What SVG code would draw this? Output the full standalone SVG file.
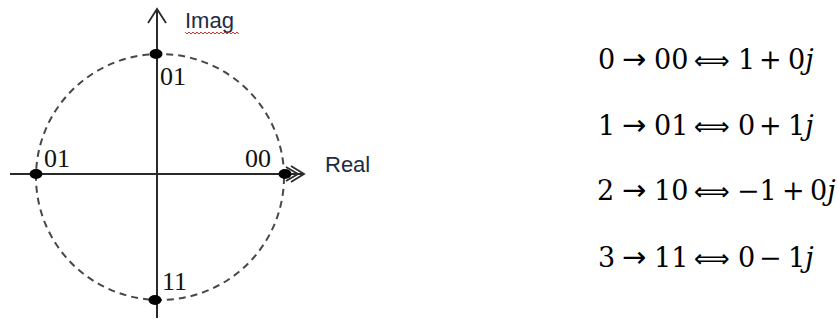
<svg xmlns="http://www.w3.org/2000/svg" width="838" height="320" viewBox="0 0 838 320">
  <style>
    .axis { stroke: #2a2a2a; stroke-width: 2; fill: none; }
    .head { stroke: #2a2a2a; stroke-width: 1.8; fill: none; stroke-linejoin: miter; }
    .circle { stroke: #474747; stroke-width: 2; fill: none; stroke-dasharray: 7 5; }
    .dot { fill: #000; }
    .axlabel { font-family: "Liberation Sans", Arial, sans-serif; font-size: 22px; fill: #1c2c44; }
    .pt { font-family: "Liberation Serif", "Times New Roman", serif; font-size: 26px; fill: #111; }
    .eq { font-family: "DejaVu Serif", "Liberation Serif", serif; font-size: 27px; fill: #000; }
    .arr { font-family: "DejaVu Sans", sans-serif; font-size: 29px; }
    .darr { font-family: "DejaVu Sans", sans-serif; font-size: 25px; }
    .squiggle { stroke: #e03030; stroke-width: 1; fill: none; }
  </style>

  <rect width="838" height="320" fill="#fff"/>

  <!-- unit circle -->
  <g id="unit-circle">
    <ellipse class="circle" cx="160" cy="177" rx="124" ry="123"/>
  </g>

  <!-- axes with open arrowheads -->
  <g id="axes">
    <line class="axis" x1="157" y1="9" x2="157" y2="318"/>
    <polyline class="head" points="148,23 157,9 166,23"/>
    <line class="axis" x1="10" y1="174" x2="303" y2="174"/>
    <polyline class="head" points="291,166 304,174 291,182"/>
    <polyline class="head" points="286,167 298,174 286,181"/>
  </g>

  <!-- constellation points -->
  <g id="point-top">
    <ellipse class="dot" cx="156" cy="54" rx="6.5" ry="5"/>
    <text class="pt" x="160" y="85">01</text>
  </g>
  <g id="point-left">
    <ellipse class="dot" cx="36" cy="174" rx="6.5" ry="5"/>
    <text class="pt" x="44" y="167">01</text>
  </g>
  <g id="point-right">
    <ellipse class="dot" cx="285" cy="174" rx="6.5" ry="5"/>
    <text class="pt" x="245" y="167">00</text>
  </g>
  <g id="point-bottom">
    <ellipse class="dot" cx="155" cy="300" rx="6.5" ry="5"/>
    <text class="pt" x="162" y="290">11</text>
  </g>

  <!-- axis labels -->
  <g id="label-imag">
    <text class="axlabel" x="185" y="28">Imag</text>
    <polyline class="squiggle" points="185,32 187,34 189,32 191,34 193,32 195,34 197,32 199,34 201,32 203,34 205,32 207,34 209,32 211,34 213,32 215,34 217,32 219,34 221,32 223,34 225,32 227,34 229,32 231,34 233,32 235,34 237,32 239,34"/>
  </g>
  <g id="label-real">
    <text class="axlabel" x="325" y="172">Real</text>
  </g>

  <!-- symbol mapping -->
  <g id="mapping">
    <text class="eq" y="69"><tspan x="598">0</tspan><tspan class="arr" x="622">→</tspan><tspan x="654">00</tspan><tspan class="darr" x="694">⟺</tspan><tspan x="738">1</tspan><tspan x="759">+</tspan><tspan x="788">0<tspan font-style="italic">j</tspan></tspan></text>
    <text class="eq" y="135"><tspan x="598">1</tspan><tspan class="arr" x="622">→</tspan><tspan x="654">01</tspan><tspan class="darr" x="694">⟺</tspan><tspan x="738">0</tspan><tspan x="759">+</tspan><tspan x="788">1<tspan font-style="italic">j</tspan></tspan></text>
    <text class="eq" y="200"><tspan x="597">2</tspan><tspan class="arr" x="622">→</tspan><tspan x="654">10</tspan><tspan class="darr" x="694">⟺</tspan><tspan x="737">−1</tspan><tspan x="782">+</tspan><tspan x="810">0<tspan font-style="italic">j</tspan></tspan></text>
    <text class="eq" y="267"><tspan x="598">3</tspan><tspan class="arr" x="622">→</tspan><tspan x="654">11</tspan><tspan class="darr" x="694">⟺</tspan><tspan x="738">0</tspan><tspan x="759">−</tspan><tspan x="788">1<tspan font-style="italic">j</tspan></tspan></text>
  </g>
</svg>
